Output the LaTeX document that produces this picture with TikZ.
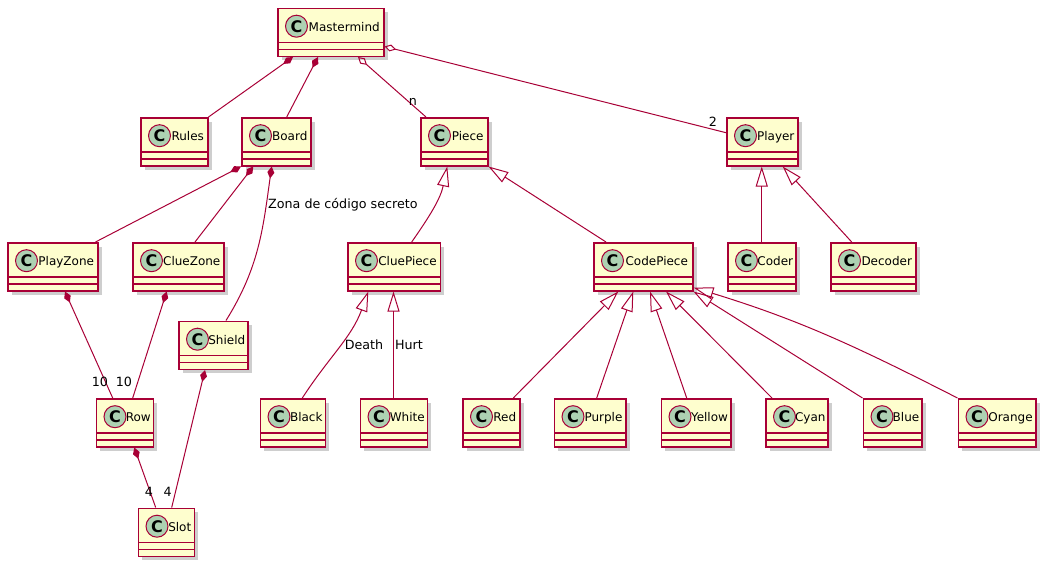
\documentclass[tikz,border=0pt]{standalone}
\usepackage{fontspec}
\setmainfont{DejaVu Sans}
\usepackage{tikz}
\usetikzlibrary{arrows.meta,shadows}

\definecolor{umlred}{HTML}{A80036}
\definecolor{umlfill}{HTML}{FEFECE}
\definecolor{umlcirc}{HTML}{ADD1B2}

\begin{document}
\begin{tikzpicture}[x=1pt, y=-1pt, semithick,
    umlclass/.style={draw=umlred, fill=umlfill, line width=1.5pt, anchor=north west,
        minimum width=#1, inner xsep=2pt, inner ysep=0pt, text height=23pt, text depth=25pt,
        font=\fontsize{12}{14}\selectfont,
        drop shadow={shadow xshift=4pt, shadow yshift=-4pt, opacity=0.35, fill=black!55},
        label={[circlemark, xshift=19.5pt, yshift=-18.7pt]north west:C},
        path picture={
            \draw[umlred, line width=1.5pt] ([yshift=-34pt]path picture bounding box.north west) -- ([yshift=-34pt]path picture bounding box.north east);
            \draw[umlred, line width=1.5pt] ([yshift=-41pt]path picture bounding box.north west) -- ([yshift=-41pt]path picture bounding box.north east);
        }},
    circlemark/.style={circle, draw=umlred, fill=umlcirc, line width=1pt, minimum size=22pt,
        inner sep=0pt, anchor=center, text=black, font=\fontsize{16}{16}\selectfont\bfseries},
    link/.style={draw=umlred, line width=1pt},
    comp/.style={link, {Diamond[length=12pt, width=7pt]}-},
    aggr/.style={link, {Diamond[open, length=12pt, width=7pt]}-},
    ext/.style={link, -{Triangle[open, length=20pt, width=12pt]}},
    lbl/.style={font=\fontsize{12.7}{15}\selectfont, inner sep=0pt, text=black}]

    \useasboundingbox (0,0) rectangle (1045,565);

    % Define nodes
    \node (Mastermind) [umlclass=106pt] at (277,7.5) {\hspace*{27pt}Mastermind};
    \node (Rules) [umlclass=67pt] at (140,117) {\hspace*{27pt}Rules};
    \node (Board) [umlclass=69pt] at (241,117) {\hspace*{27pt}Board};
    \node (Piece) [umlclass=67pt] at (420,117) {\hspace*{27pt}Piece};
    \node (Player) [umlclass=71pt] at (726,117) {\hspace*{27pt}Player};

    \node (PlayZone) [umlclass=90pt] at (7,242) {\hspace*{27pt}PlayZone};
    \node (ClueZone) [umlclass=91pt] at (132,242) {\hspace*{27pt}ClueZone};
    \node (CluePiece) [umlclass=92.5pt] at (347,242) {\hspace*{27pt}CluePiece};
    \node (CodePiece) [umlclass=99pt] at (593,242) {\hspace*{27pt}CodePiece};
    \node (Coder) [umlclass=68pt] at (727,242) {\hspace*{27pt}Coder};
    \node (Decoder) [umlclass=85pt] at (830,242) {\hspace*{27pt}Decoder};

    \node (Shield) [umlclass=69pt] at (178,320.5) {\hspace*{27pt}Shield};

    \node (Row) [umlclass=57pt] at (95.5,398) {\hspace*{27pt}Row};
    \node (Black) [umlclass=65pt] at (259.5,398) {\hspace*{27pt}Black};
    \node (White) [umlclass=67pt] at (359.5,398) {\hspace*{27pt}White};
    \node (Red) [umlclass=57pt] at (462,398) {\hspace*{27pt}Red};
    \node (Purple) [umlclass=71.5pt] at (553.5,398) {\hspace*{27pt}Purple};
    \node (Yellow) [umlclass=69.5pt] at (660.5,398) {\hspace*{27pt}Yellow};
    \node (Cyan) [umlclass=62pt] at (765,398) {\hspace*{27pt}Cyan};
    \node (Blue) [umlclass=58.5pt] at (862.5,398) {\hspace*{27pt}Blue};
    \node (Orange) [umlclass=77.5pt] at (957.5,398) {\hspace*{27pt}Orange};

    \node (Slot) [umlclass=56pt] at (137.5,507.5) {\hspace*{27pt}Slot};

    % Composition and aggregation
    \draw[comp] ([xshift=16pt]Mastermind.south west) -- (Rules.north east);
    \draw[comp] ([xshift=41pt]Mastermind.south west) -- ([xshift=45.7pt]Board.north west);
    \draw[aggr] ([xshift=81pt]Mastermind.south west) -- ([xshift=6pt]Piece.north west)
        node[lbl, pos=1, xshift=-13pt, yshift=15pt] {n};
    \draw[aggr] ([yshift=10.5pt]Mastermind.south east) -- ([yshift=-15.7pt]Player.north west)
        node[lbl, pos=1, xshift=-13pt, yshift=11pt] {2};

    \draw[comp] (Board.south west) -- ([xshift=-3pt]PlayZone.north east);
    \draw[comp] ([xshift=12.3pt]Board.south west) -- ([xshift=63pt]ClueZone.north west);
    \draw[comp] ([xshift=30.7pt]Board.south west) to[out=262, in=58]
        node[lbl, pos=0, anchor=west, xshift=-4pt, yshift=-38pt] {Zona de código secreto}
        ([xshift=48pt]Shield.north west);

    \draw[comp] ([xshift=58pt]PlayZone.south west) -- ([xshift=17.2pt]Row.north west)
        node[lbl, pos=1, xshift=-12.7pt, yshift=15.7pt] {10};
    \draw[comp] ([xshift=34.7pt]ClueZone.south west) -- ([xshift=37.2pt]Row.north west)
        node[lbl, pos=1, xshift=-8.7pt, yshift=15.7pt] {10};
    \draw[comp] ([xshift=27pt]Shield.south west) -- ([xshift=34.2pt]Slot.north west)
        node[lbl, pos=1, xshift=-4pt, yshift=15.8pt] {4};
    \draw[comp] ([xshift=38.8pt]Row.south west) -- ([xshift=18.2pt]Slot.north west)
        node[lbl, pos=1, xshift=-6.7pt, yshift=15.8pt] {4};

    % Inheritance
    \draw[ext] ([xshift=64.7pt]CluePiece.north west) to[out=55, in=258] ([xshift=27.3pt]Piece.south west);
    \draw[ext] ([xshift=13pt]CodePiece.north west) -- (Piece.south east);
    \draw[ext] (Coder.north) -- (Coder.north |- Player.south);
    \draw[ext] ([xshift=21.7pt]Decoder.north west) -- ([xshift=56.7pt]Player.south west);

    \draw[ext] ([xshift=42.8pt]Black.north west) to[out=57, in=250]
        node[lbl, pos=0, xshift=61.7pt, yshift=53.7pt] {Death}
        ([xshift=21.3pt]CluePiece.south west);
    \draw[ext] ([xshift=34pt]White.north west) -- ([xshift=34pt]White.north west |- CluePiece.south)
        node[lbl, pos=0.5, anchor=west, xshift=1pt] {Hurt};

    \draw[ext] ([xshift=51.3pt]Red.north west) -- ([xshift=25.3pt]CodePiece.south west);
    \draw[ext] ([xshift=43.2pt]Purple.north west) -- ([xshift=40.3pt]CodePiece.south west);
    \draw[ext] ([xshift=26.2pt]Yellow.north west) -- ([xshift=57pt]CodePiece.south west);
    \draw[ext] ([xshift=7pt]Cyan.north west) -- ([xshift=73pt]CodePiece.south west);
    \draw[ext] (Blue.north west) -- (CodePiece.south east);
    \draw[ext] (Orange.north west) to[out=153, in=-17] ([yshift=4pt]CodePiece.south east);

\end{tikzpicture}
\end{document}
